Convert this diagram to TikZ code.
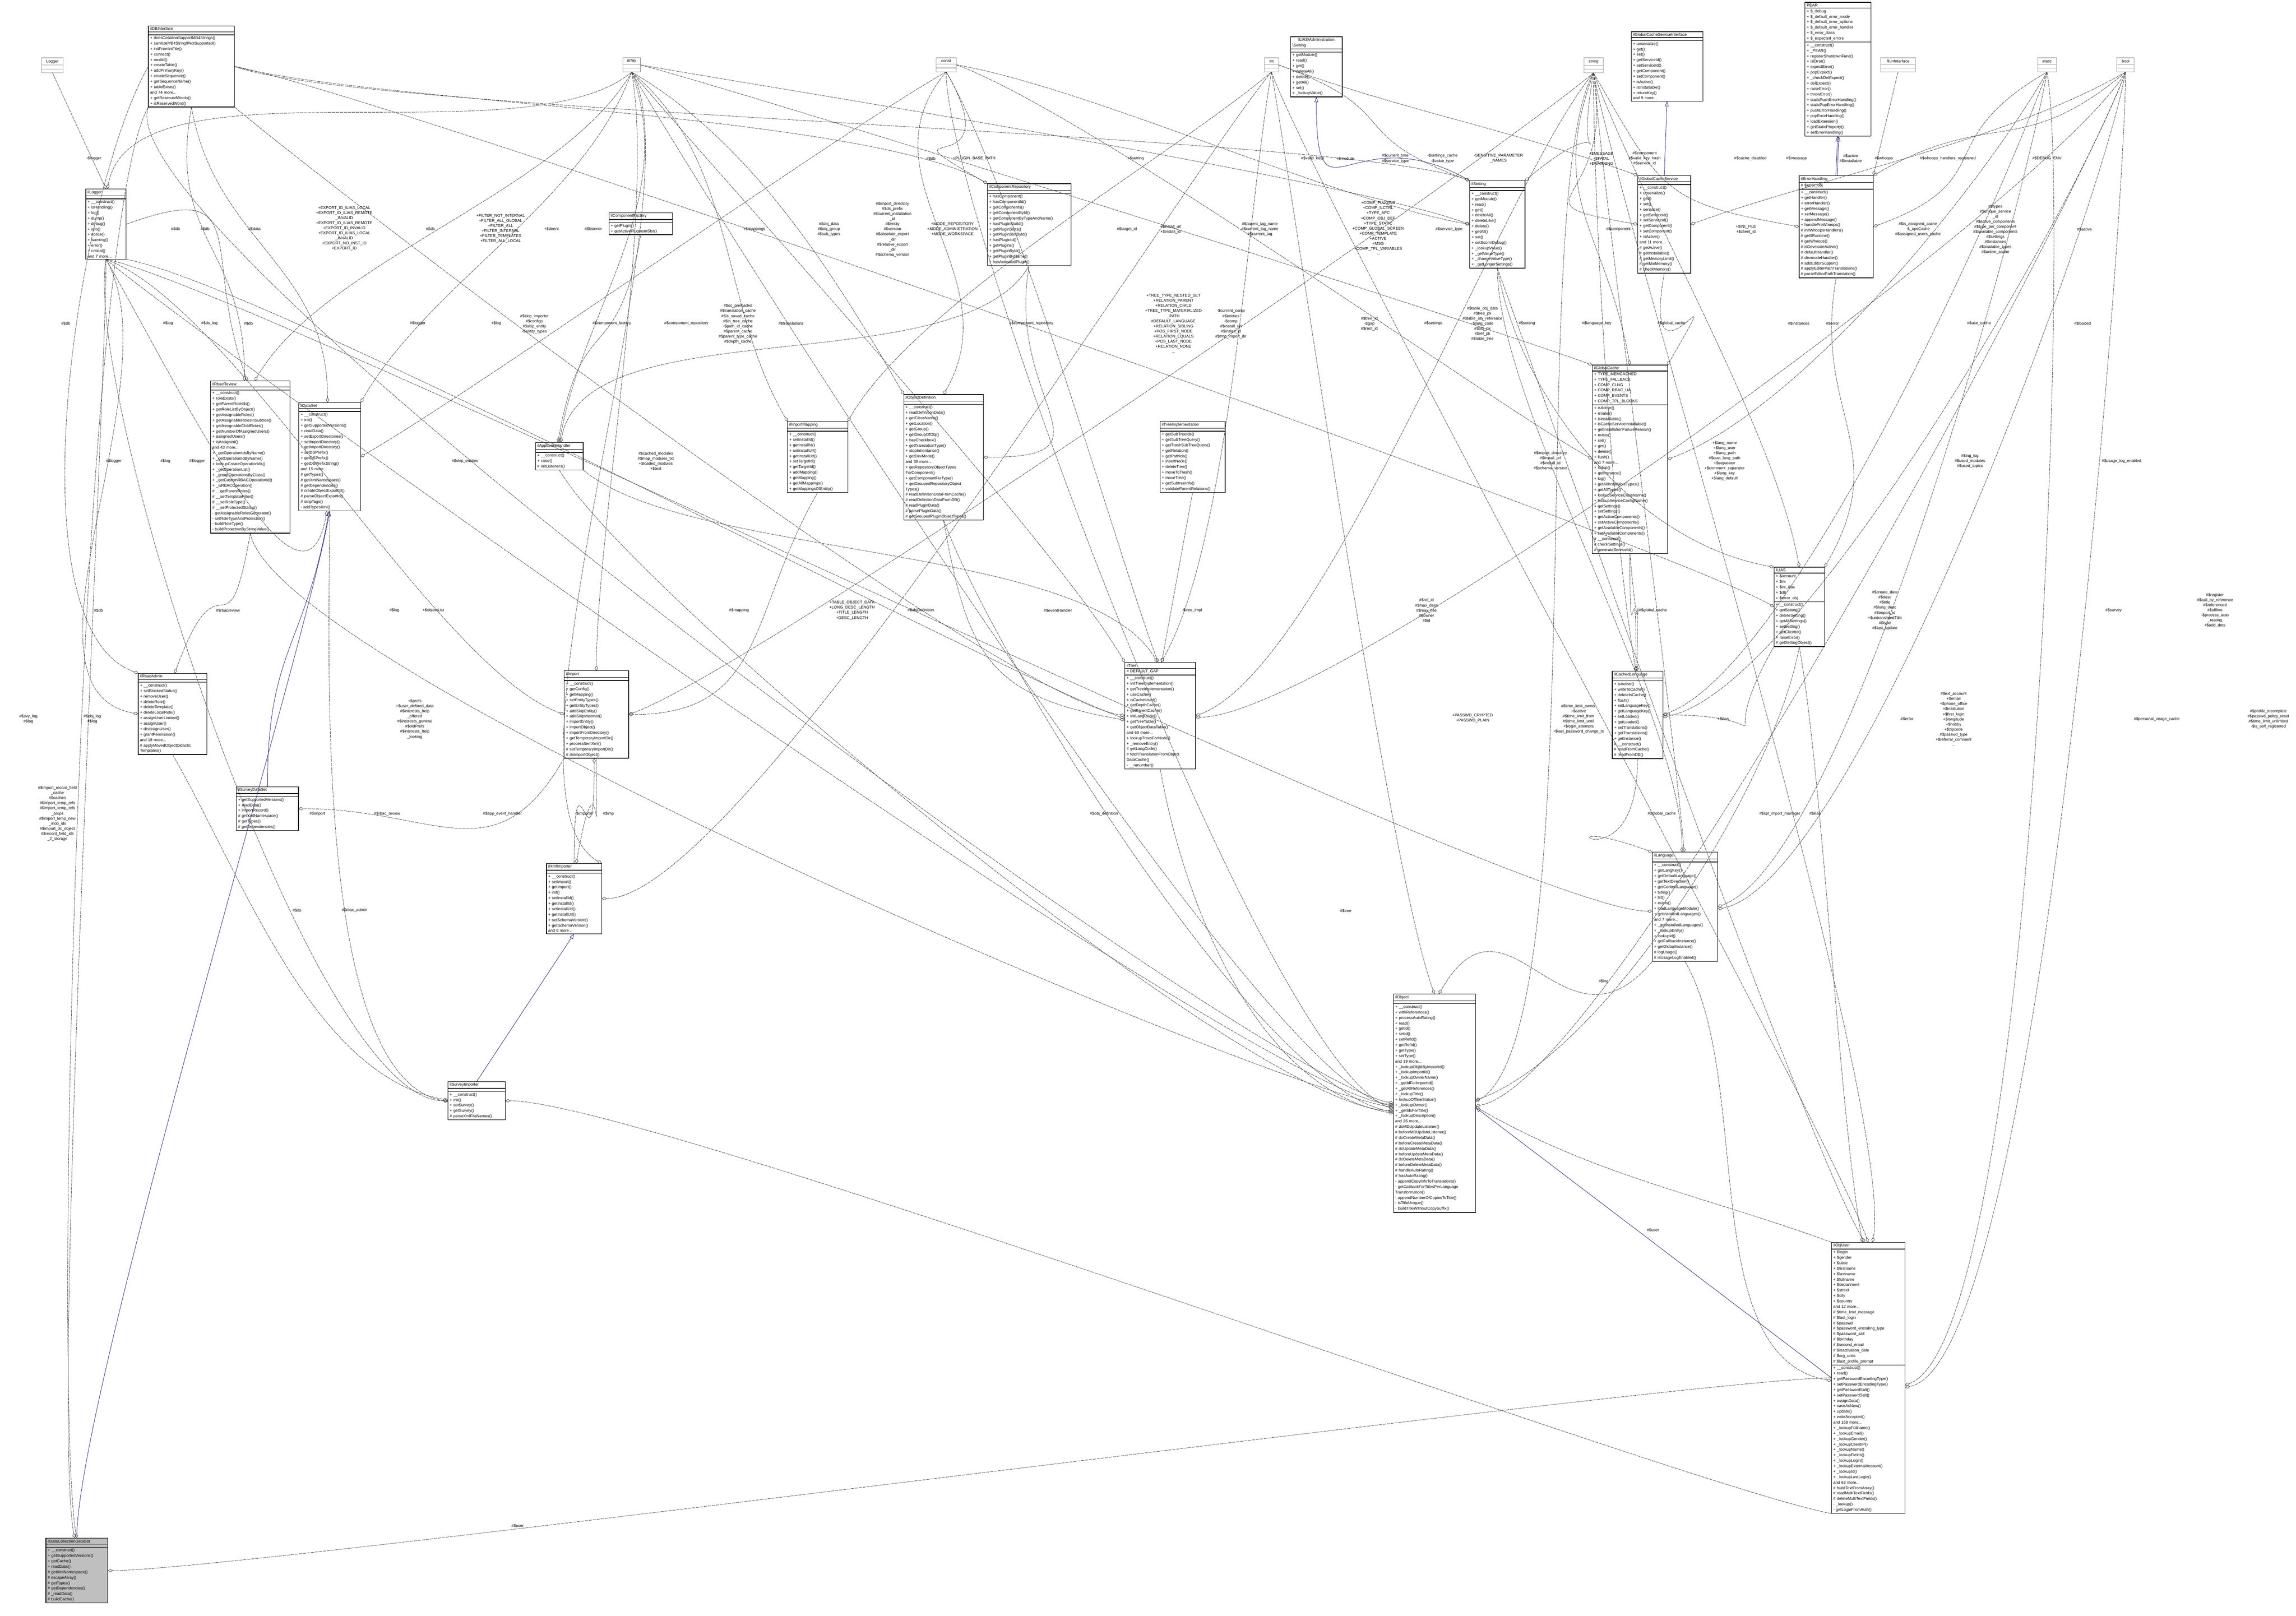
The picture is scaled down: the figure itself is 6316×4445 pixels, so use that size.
\documentclass[tikz,border=0pt]{standalone}
\usepackage{fontspec}
\setmainfont{Liberation Sans}
\usetikzlibrary{shapes.multipart,arrows.meta}
\definecolor{edgec}{HTML}{404040}
\definecolor{inhc}{HTML}{191970}
\newcommand\cls[8][white]{%
  \node[cls,fill=#1,text width=#5pt,anchor=north west] (#2) at (#3,#4) {#6\nodepart{second}#7\nodepart{third}#8};}
\newcommand\typ[4]{%
  \node[typbox,text width=#4pt,anchor=north west] (#1) at (#2,#3) {\centering #1\nodepart{second}\mbox{}\nodepart{third}\mbox{}};}
\newcommand\lbl[4]{\node[lab] (#1) at (#2,#3) {#4};}
\newcommand\crv[5]{%
  \pgfmathsetmacro\cax{380*cos(#3)}\pgfmathsetmacro\cay{-380*sin(#3)}%
  \pgfmathsetmacro\cbx{380*cos(#4)}\pgfmathsetmacro\cby{-380*sin(#4)}%
  \draw[#1] (#2) .. controls +(\cax,\cay) and +(\cbx,\cby) .. (#5);}
\begin{document}
\begin{tikzpicture}[x=1pt,y=-1pt,scale=0.2,every node/.append style={transform shape},
  cls/.style={draw=black,line width=0.32pt,rectangle split,rectangle split parts=3,
    align=left,font=\fontsize{11}{15}\selectfont,inner xsep=5pt,inner ysep=4pt},
  typbox/.style={draw=black!35,line width=0.28pt,rectangle split,rectangle split parts=3,
    align=center,font=\fontsize{11}{15}\selectfont,inner xsep=3pt,inner ysep=5pt},
  lab/.style={align=center,font=\fontsize{11}{14}\selectfont,inner sep=1pt},
  dep/.style={draw=edgec,dash pattern=on 1.8pt off 0.4pt,line width=0.2pt,-{Diamond[open,length=2.8pt,width=1.8pt]}},
  inh/.style={draw=inhc,line width=0.2pt,-{Triangle[open,length=2.8pt,width=2pt]}}]
\fill[white] (0,0) rectangle (6316,4445);
\useasboundingbox (0,0) rectangle (6316,4445);
% ---------- type boxes
\typ{Logger}{114}{159}{54}
\typ{array}{1713}{159}{43}
\typ{const}{2575}{159}{49}
\typ{int}{3478}{159}{33}
\typ{string}{4357}{159}{47}
\typ{RunInterface}{5173}{159}{90}
\typ{static}{5605}{159}{46}
\typ{bool}{5823}{159}{42}
% ---------- classes
\cls{ilDBInterface}{408}{71}{227}{\centering ilDBInterface}{\mbox{}}{+ doesCollationSupportMB4Strings()\\+ sanitizeMB4StringIfNotSupported()\\+ initFromIniFile()\\+ connect()\\+ nextId()\\+ createTable()\\+ addPrimaryKey()\\+ createSequence()\\+ getSequenceName()\\+ tableExists()\\and 74 more...\\+ getReservedWords()\\+ isReservedWord()}
\cls{ilLogger}{236}{520}{101}{\centering ilLogger}{\mbox{}}{+ \_\_construct()\\+ isHandling()\\+ log()\\+ dump()\\+ debug()\\+ info()\\+ notice()\\+ warning()\\+ error()\\+ critical()\\and 7 more...}
\cls{ilComponentFactory}{1675}{585}{165}{\centering ilComponentFactory}{\mbox{}}{+ getPlugin()\\+ getActivePluginsInSlot()}
\cls{ILIASSetting}{3550}{101}{132}{\centering ILIAS\textbackslash Administration\\\textbackslash Setting}{\mbox{}}{+ getModule()\\+ read()\\+ get()\\+ deleteAll()\\+ delete()\\+ getAll()\\+ set()\\+ \_lookupValue()}
\cls{ilComponentRepository}{2716}{505}{220}{\centering ilComponentRepository}{\mbox{}}{+ hasComponent()\\+ hasComponentId()\\+ getComponents()\\+ getComponentById()\\+ getComponentByTypeAndName()\\+ hasPluginSlotId()\\+ getPluginSlots()\\+ getPluginSlotById()\\+ hasPluginId()\\+ getPlugins()\\+ getPluginById()\\+ getPluginByName()\\+ hasActivatedPlugin()}
\cls{ilSetting}{4043}{497}{142}{\centering ilSetting}{\mbox{}}{+ \_\_construct()\\+ getModule()\\+ read()\\+ get()\\+ deleteAll()\\+ deleteLike()\\+ delete()\\+ getAll()\\+ set()\\+ setScormDebug()\\+ \_lookupValue()\\+ \_getValueType()\\+ \_changeValueType()\\+ \_getLongerSettings()}
\cls{ilGCSI}{4487}{87}{187}{\centering ilGlobalCacheServiceInterface}{\mbox{}}{+ unserialize()\\+ get()\\+ set()\\+ getServiceId()\\+ setServiceId()\\+ getComponent()\\+ setComponent()\\+ isActive()\\+ isInstallable()\\+ returnKey()\\and 9 more...}
\cls{PEAR}{4965}{6}{172}{\centering PEAR}{+ \$\_debug\\+ \$\_default\_error\_mode\\+ \$\_default\_error\_options\\+ \$\_default\_error\_handler\\+ \$\_error\_class\\+ \$\_expected\_errors}{+ \_\_construct()\\+ \_PEAR()\\+ registerShutdownFunc()\\+ isError()\\+ expectError()\\+ popExpect()\\+ \_checkDelExpect()\\+ delExpect()\\+ raiseError()\\+ throwError()\\+ staticPushErrorHandling()\\+ staticPopErrorHandling()\\+ pushErrorHandling()\\+ popErrorHandling()\\+ loadExtension()\\+ getStaticProperty()\\+ setErrorHandling()}
\cls{ilGCS}{4505}{483}{136}{\centering ilGlobalCacheService}{\mbox{}}{+ \_\_construct()\\+ unserialize()\\+ get()\\+ set()\\+ serialize()\\+ getServiceId()\\+ setServiceId()\\+ getComponent()\\+ setComponent()\\+ isActive()\\and 11 more...\\\# getActive()\\\# getInstallable()\\\# getMemoryLimit()\\\# getMinMemory()\\\# checkMemory()}
\cls{ilErrorHandling}{4949}{483}{194}{\centering ilErrorHandling}{\# \$error\_obj}{+ \_\_construct()\\+ getHandler()\\+ errorHandler()\\+ getMessage()\\+ setMessage()\\+ appendMessage()\\+ handlePreWhoops()\\\# initWhoopsHandlers()\\\# getIlRuntime()\\\# getWhoops()\\\# isDevmodeActive()\\\# defaultHandler()\\\# devmodeHandler()\\\# addEditorSupport()\\\# applyEditorPathTranslations()\\\# parseEditorPathTranslation()}
\cls{ilRbacReview}{579}{1048}{209}{\centering ilRbacReview}{\mbox{}}{+ \_\_construct()\\+ roleExists()\\+ getParentRoleIds()\\+ getRoleListByObject()\\+ getAssignableRoles()\\+ getAssignableRolesInSubtree()\\+ getAssignableChildRoles()\\+ getNumberOfAssignedUsers()\\+ assignedUsers()\\+ isAssigned()\\and 43 more...\\+ \_getOperationIdsByName()\\+ \_getOperationIdByName()\\+ lookupCreateOperationIds()\\+ \_getOperationList()\\+ \_groupOperationsByClass()\\+ \_getCustomRBACOperationId()\\+ \_isRBACOperation()\\\# \_\_getParentRoles()\\\# \_\_setTemplateFilter()\\\# \_\_setRoleType()\\\# \_\_setProtectedStatus()\\- getAssignableRolesGenerator()\\- setRoleTypeAndProtection()\\- buildRoleType()\\- buildProtectionByStringValue()}
\cls{ilDataSet}{822}{1107}{160}{\centering ilDataSet}{\mbox{}}{+ \_\_construct()\\+ init()\\+ getSupportedVersions()\\+ readData()\\+ setExportDirectories()\\+ setImportDirectory()\\+ getImportDirectory()\\+ setDSPrefix()\\+ getDSPrefix()\\+ getDSPrefixString()\\and 15 more...\\\# getTypes()\\\# getXmlNamespace()\\\# getDependencies()\\\# createObjectExportId()\\\# parseObjectExportId()\\\# stripTags()\\- addTypesXml()}
\cls{ilAppEventHandler}{1473}{1217}{121}{\centering ilAppEventHandler}{\mbox{}}{+ \_\_construct()\\+ raise()\\\# initListeners()}
\cls{ilRbacAdmin}{380}{1852}{179}{\centering ilRbacAdmin}{\mbox{}}{+ \_\_construct()\\+ setBlockedStatus()\\+ removeUser()\\+ deleteRole()\\+ deleteTemplate()\\+ deleteLocalRole()\\+ assignUserLimited()\\+ assignUser()\\+ deassignUser()\\+ grantPermission()\\and 18 more...\\\# applyMovedObjectDidactic\\Templates()}
\cls{ilSurveyDataSet}{650}{2164}{161}{\centering ilSurveyDataSet}{\mbox{}}{+ getSupportedVersions()\\+ readData()\\+ importRecord()\\\# getXmlNamespace()\\\# getTypes()\\\# getDependencies()}
\cls{ilImport}{1552}{1845}{167}{\centering ilImport}{\mbox{}}{+ \_\_construct()\\+ getConfig()\\+ getMapping()\\+ setEntityTypes()\\+ getEntityTypes()\\+ addSkipEntity()\\+ addSkipImporter()\\+ importEntity()\\+ importObject()\\+ importFromDirectory()\\+ getTemporaryImportDir()\\+ processItemXml()\\\# setTemporaryImportDir()\\\# doImportObject()}
\cls{ilImportMapping}{2166}{1159}{156}{\centering ilImportMapping}{\mbox{}}{+ \_\_construct()\\+ setInstallId()\\+ getInstallId()\\+ setInstallUrl()\\+ getInstallUrl()\\+ setTargetId()\\+ getTargetId()\\+ addMapping()\\+ getMapping()\\+ getAllMappings()\\+ getMappingsOfEntity()}
\cls{ilObjectDefinition}{2486}{1085}{209}{\centering ilObjectDefinition}{\mbox{}}{+ \_\_construct()\\+ readDefinitionData()\\+ getClassName()\\+ getLocation()\\+ getGroup()\\+ getGroupOfObj()\\+ hasCheckbox()\\+ getTranslationType()\\+ stopInheritance()\\+ getDevMode()\\and 38 more...\\+ getRepositoryObjectTypes\\ForComponent()\\+ getComponentForType()\\+ getGroupedRepositoryObject\\Types()\\\# readDefinitionDataFromCache()\\\# readDefinitionDataFromDB()\\\# readPluginData()\\\# parsePluginData()\\\# getGroupedPluginObjectTypes()}
\cls{ilTreeImplementation}{3191}{1159}{169}{\centering ilTreeImplementation}{\mbox{}}{+ getSubTreeIds()\\+ getSubTreeQuery()\\+ getTrashSubTreeQuery()\\+ getRelation()\\+ getPathIds()\\+ insertNode()\\+ deleteTree()\\+ moveToTrash()\\+ moveTree()\\+ getSubtreeInfo()\\+ validateParentRelations()}
\cls{ilTree}{3094}{1822}{185}{\centering ilTree}{\# DEFAULT\_GAP}{+ \_\_construct()\\+ initTreeImplementation()\\+ getTreeImplementation()\\+ useCache()\\+ isCacheUsed()\\+ getDepthCache()\\+ getParentCache()\\+ initLangCode()\\+ getTreeTable()\\+ getObjectDataTable()\\and 69 more...\\+ lookupTreesForNode()\\+ \_removeEntry()\\\# getLangCode()\\\# fetchTranslationFromObject\\DataCache()\\- \_\_renumber()}
\cls{ilGlobalCache}{4380}{1004}{197}{\centering ilGlobalCache}{+ TYPE\_MEMCACHED\\+ TYPE\_FALLBACK\\+ COMP\_CLNG\\+ COMP\_RBAC\_UA\\+ COMP\_EVENTS\\+ COMP\_TPL\_BLOCKS}{+ isActive()\\+ isValid()\\+ isInstallable()\\+ isCacheServiceInstallable()\\+ getInstallationFailureReason()\\+ exists()\\+ set()\\+ get()\\+ delete()\\+ flush()\\and 7 more...\\+ setup()\\+ getInstance()\\+ log()\\+ getAllInstallableTypes()\\+ getAllTypes()\\+ lookupServiceClassName()\\+ lookupServiceConfigName()\\+ getSettings()\\+ setSettings()\\+ getActiveComponents()\\+ setActiveComponents()\\+ getAvailableComponents()\\+ setAvailableComponents()\\\# \_\_construct()\\\# checkSettings()\\\# generateServiceId()}
\cls{ILIAS}{4880}{1560}{129}{\centering ILIAS}{+ \$account\\+ \$ini\\+ \$ini\_ilias\\+ \$db\\+ \$error\_obj}{+ \_\_construct()\\+ getSetting()\\+ deleteSetting()\\+ getAllSettings()\\+ setSetting()\\+ getClientId()\\+ raiseError()\\\# getSettingObject()}
\cls{ilCachedLanguage}{4435}{1846}{129}{\centering ilCachedLanguage}{\mbox{}}{+ isActive()\\+ writeToCache()\\+ deleteInCache()\\+ flush()\\+ setLanguageKey()\\+ getLanguageKey()\\+ setLoaded()\\+ getLoaded()\\+ setTranslations()\\+ getTranslations()\\+ getInstance()\\\# \_\_construct()\\\# readFromCache()\\\# readFromDB()}
\cls{ilLanguage}{4545}{2344}{170}{\centering ilLanguage}{\mbox{}}{+ \_\_construct()\\+ getLangKey()\\+ getDefaultLanguage()\\+ getTextDirection()\\+ getContentLanguage()\\+ txtlng()\\+ txt()\\+ exists()\\+ loadLanguageModule()\\+ getInstalledLanguages()\\and 7 more...\\+ \_getInstalledLanguages()\\+ \_lookupEntry()\\+ lookupId()\\+ getFallbackInstance()\\+ getGlobalInstance()\\\# logUsage()\\\# isUsageLogEnabled()}
\cls{ilXmlImporter}{1503}{2375}{142}{\centering ilXmlImporter}{\mbox{}}{+ \_\_construct()\\+ setImport()\\+ getImport()\\+ init()\\+ setInstallId()\\+ getInstallId()\\+ setInstallUrl()\\+ getInstallUrl()\\+ setSchemaVersion()\\+ getSchemaVersion()\\and 8 more...}
\cls{ilSurveyImporter}{1232}{2975}{148}{\centering ilSurveyImporter}{\mbox{}}{+ \_\_construct()\\+ init()\\+ setSurvey()\\+ getSurvey()\\\# parseXmlFileNames()}
\cls{ilObject}{3833}{2734}{216}{\centering ilObject}{\mbox{}}{+ \_\_construct()\\+ withReferences()\\+ processAutoRating()\\+ read()\\+ getId()\\+ setId()\\+ setRefId()\\+ getRefId()\\+ getType()\\+ setType()\\and 39 more...\\+ \_lookupObjIdByImportId()\\+ \_lookupImportId()\\+ \_lookupOwnerName()\\+ \_getIdForImportId()\\+ \_getAllReferences()\\+ \_lookupTitle()\\+ lookupOfflineStatus()\\+ \_lookupOwner()\\+ \_getIdsForTitle()\\+ \_lookupDescription()\\and 26 more...\\\# doMDUpdateListener()\\\# beforeMDUpdateListener()\\\# doCreateMetaData()\\\# beforeCreateMetaData()\\\# doUpdateMetaData()\\\# beforeUpdateMetaData()\\\# doDeleteMetaData()\\\# beforeDeleteMetaData()\\\# handleAutoRating()\\\# hasAutoRating()\\- appendCopyInfoToTranslations()\\- getCallbackForTitlesPerLanguage\\Transformation()\\- appendNumberOfCopiesToTitle()\\- isTitleUnique()\\- buildTitleWithoutCopySuffix()}
\cls{ilObjUser}{5038}{3417}{192}{\centering ilObjUser}{+ \$login\\+ \$gender\\+ \$utitle\\+ \$firstname\\+ \$lastname\\+ \$fullname\\+ \$department\\+ \$street\\+ \$city\\+ \$country\\and 12 more...\\\# \$time\_limit\_message\\\# \$last\_login\\\# \$passwd\\\# \$password\_encoding\_type\\\# \$password\_salt\\\# \$birthday\\\# \$second\_email\\\# \$inactivation\_date\\\# \$org\_units\\\# \$last\_profile\_prompt}{+ \_\_construct()\\+ read()\\+ getPasswordEncodingType()\\+ setPasswordEncodingType()\\+ getPasswordSalt()\\+ setPasswordSalt()\\+ assignData()\\+ saveAsNew()\\+ update()\\+ writeAccepted()\\and 168 more...\\+ \_lookupFullname()\\+ \_lookupEmail()\\+ \_lookupGender()\\+ \_lookupClientIP()\\+ \_lookupName()\\+ \_lookupFields()\\+ \_lookupLogin()\\+ \_lookupExternalAccount()\\+ \_lookupId()\\+ \_lookupLastLogin()\\and 63 more...\\\# buildTextFromArray()\\\# readMultiTextFields()\\\# deleteMultiTextFields()\\- \_lookup()\\- getLoginFromAuth()}
\cls[black!25]{ilDCDS}{126}{4231}{160}{\centering ilDataCollectionDataSet}{\mbox{}}{+ \_\_construct()\\+ getSupportedVersions()\\+ getCache()\\+ readData()\\\# getXmlNamespace()\\\# escapeArray()\\\# getTypes()\\\# getDependencies()\\\# \_readData()\\\# buildCache()}
% ---------- inheritance
\draw[inh] (ilGCS.north) -- (ilGCSI.south);
\crv{inh}{ilSetting.north west}{150}{-90}{ILIASSetting.south}
\draw[inh] ([xshift=-1pt]ilErrorHandling.north) -- ([xshift=-1pt]PEAR.south);
\draw[inh] ([xshift=3pt]ilErrorHandling.north) -- ([xshift=2pt]PEAR.south);
\crv{inh}{ilSurveyDataSet.north}{90}{-100}{[xshift=-2pt]ilDataSet.south}
\crv{inh}{ilDCDS.north}{90}{-100}{ilDataSet.south}
\draw[inh] (ilSurveyImporter.north) -- (ilXmlImporter.south);
\draw[inh] (ilObjUser.west) -- ([yshift=-12pt]ilObject.east);
% ---------- dependencies
\draw[dep] (Logger.south) -- (ilLogger.north);
\crv{dep}{ilDBInterface.south}{-100}{90}{[xshift=-16pt]ilRbacReview.north}
\crv{dep}{ilDBInterface.south}{-80}{90}{[xshift=-6pt]ilDataSet.north}
\crv{dep}{ilDBInterface.west}{-120}{160}{ilRbacAdmin.north west}
\crv{dep}{ilDBInterface.east}{-20}{160}{ilSetting.north west}
\crv{dep}{ilDBInterface.south east}{-40}{170}{ilTree.west}
\crv{dep}{ilDBInterface.south west}{-110}{170}{ilObject.west}
\crv{dep}{ilDBInterface.east}{-10}{150}{ILIAS.west}
\crv{dep}{ilDBInterface.south west}{-120}{100}{ilDCDS.north}
\crv{dep}{ilDBInterface.east}{-15}{150}{ilComponentRepository.north west}
\crv{dep}{array.south}{-120}{60}{[xshift=12pt]ilRbacReview.north}
\crv{dep}{array.south}{-110}{60}{ilDataSet.north east}
\crv{dep}{array.south}{-80}{90}{ilImport.north}
\crv{dep}{array.south}{-30}{120}{ilObjectDefinition.north west}
\crv{dep}{array.south}{-40}{120}{ilImportMapping.north west}
\crv{dep}{array.south}{-50}{120}{ilTree.north west}
\crv{dep}{array.east}{-10}{160}{ilSetting.west}
\crv{dep}{array.east}{-15}{160}{ilGlobalCache.north west}
\crv{dep}{array.south}{-60}{170}{[yshift=-8pt]ilObject.west}
\crv{dep}{array.south}{-60}{150}{ilXmlImporter.north east}
\crv{dep}{array.south}{-70}{80}{ilAppEventHandler.north}
\crv{dep}{array.south}{-140}{80}{[xshift=4pt]ilLogger.north}
\crv{dep}{ilLogger.south}{-60}{-100}{[xshift=-8pt]ilDataSet.south}
\crv{dep}{ilLogger.east}{20}{110}{[xshift=-8pt]ilRbacReview.north}
\crv{dep}{ilLogger.south}{-20}{160}{ilImport.west}
\crv{dep}{ilLogger.south}{-40}{175}{[yshift=-4pt]ilObject.west}
\crv{dep}{ilLogger.south east}{-10}{160}{[yshift=-8pt]ilTree.west}
\crv{dep}{ilLogger.south}{-100}{180}{ilSurveyImporter.west}
\crv{dep}{ilLogger.south}{-90}{100}{[xshift=-6pt]ilDCDS.north}
\crv{dep}{ilLogger.south}{-10}{180}{[yshift=-12pt]ilLanguage.west}
\crv{dep}{ilLogger.south}{-60}{170}{ilRbacAdmin.west}
\crv{dep}{ilComponentFactory.south}{-100}{80}{[xshift=-4pt]ilAppEventHandler.north}
\crv{dep}{ilComponentRepository.south}{-120}{80}{[xshift=4pt]ilAppEventHandler.north}
\crv{dep}{ilComponentRepository.south}{-100}{0}{ilObjectDefinition.east}
\crv{dep}{const.south}{-60}{150}{ilComponentRepository.north west}
\crv{dep}{const.south}{-60}{110}{[xshift=-6pt]ilTree.north}
\crv{dep}{const.south}{-130}{60}{ilObjectDefinition.north}
\crv{dep}{const.south}{-150}{30}{ilDataSet.east}
\crv{dep}{const.east}{-20}{150}{ilGlobalCache.west}
\crv{dep}{const.south}{-90}{160}{[yshift=-16pt]ilObject.west}
\crv{dep}{const.east}{-10}{170}{ilSetting.west}
\crv{dep}{int.south}{-100}{60}{[xshift=2pt]ilTree.north}
\crv{dep}{int.south}{-140}{60}{ilImportMapping.north east}
\crv{dep}{int.south}{-130}{0}{ilXmlImporter.east}
\crv{dep}{int.south}{-80}{110}{ilObject.north}
\crv{dep}{int.east}{-20}{160}{ilSetting.north west}
\crv{dep}{int.east}{-20}{160}{ilGCS.north west}
\crv{dep}{int.south}{-70}{110}{ilObjUser.north}
\crv{dep}{string.south}{-100}{40}{ilSetting.north east}
\crv{dep}{string.south}{-80}{170}{ilGCS.west}
\crv{dep}{string.south}{-60}{170}{ilErrorHandling.west}
\crv{dep}{string.south}{-70}{100}{ILIAS.north}
\crv{dep}{string.south}{-110}{100}{ilGlobalCache.north}
\crv{dep}{string.south}{-90}{100}{[xshift=-4pt]ilCachedLanguage.north}
\crv{dep}{string.south}{-85}{95}{[xshift=-2pt]ilLanguage.north}
\crv{dep}{string.south}{-120}{30}{[yshift=4pt]ilObject.east}
\crv{dep}{string.south}{-80}{80}{[xshift=12pt]ilObjUser.north}
\crv{dep}{string.south}{-130}{20}{ilTree.east}
\crv{dep}{string.south}{-140}{20}{ilImport.east}
\draw[dep] (RunInterface.south) -- (ilErrorHandling.north east);
\crv{dep}{static.south}{-120}{20}{ilGlobalCache.east}
\crv{dep}{static.south}{-150}{20}{ilErrorHandling.east}
\crv{dep}{static.south}{-110}{20}{ilCachedLanguage.east}
\crv{dep}{static.south}{-100}{20}{ilLanguage.east}
\crv{dep}{static.south}{-80}{20}{[yshift=-20pt]ilObjUser.east}
\crv{dep}{bool.south}{-150}{20}{ilGCS.east}
\crv{dep}{bool.south}{-140}{30}{ilErrorHandling.north east}
\crv{dep}{bool.south}{-110}{10}{[yshift=-6pt]ilCachedLanguage.east}
\crv{dep}{bool.south}{-100}{10}{[yshift=-6pt]ilLanguage.east}
\crv{dep}{bool.south}{-110}{10}{[yshift=-8pt]ilObject.east}
\crv{dep}{bool.south}{-90}{10}{[yshift=-26pt]ilObjUser.east}
\crv{dep}{bool.south}{-120}{0}{[yshift=-4pt]ilTree.east}
\crv{dep}{ilRbacReview.south}{-100}{70}{[xshift=6pt]ilRbacAdmin.north}
\crv{dep}{ilRbacReview.south}{-80}{170}{[yshift=-12pt]ilObject.west}
\crv{dep}{ilDataSet.south}{-90}{170}{[yshift=-2pt]ilSurveyImporter.west}
\crv{dep}{ilAppEventHandler.south}{-60}{180}{[yshift=-20pt]ilObject.west}
\crv{dep}{ilAppEventHandler.south east}{-40}{120}{[xshift=-8pt]ilTree.north}
\crv{dep}{ilImport.south}{-90}{80}{[xshift=6pt]ilXmlImporter.north}
\crv{dep}{ilXmlImporter.north}{90}{-90}{[xshift=-6pt]ilImport.south}
\crv{dep}{ilImport.south west}{-120}{0}{ilSurveyDataSet.east}
\crv{dep}{ilImportMapping.south}{-120}{0}{ilImport.east}
\crv{dep}{ilObjectDefinition.south}{-80}{170}{[yshift=-12pt]ilTree.west}
\crv{dep}{ilObjectDefinition.south}{-70}{170}{[yshift=-24pt]ilObject.west}
\draw[dep] (ilTreeImplementation.south) -- ([xshift=4pt]ilTree.north);
\crv{dep}{ilTree.south}{-80}{170}{[yshift=-28pt]ilObject.west}
\crv{dep}{ilSetting.south}{-90}{90}{[xshift=-8pt]ilLanguage.north}
\crv{dep}{ilSetting.south}{-80}{170}{ILIAS.north west}
\crv{dep}{ilSetting.south}{-70}{120}{[xshift=-10pt]ilObjUser.north}
\crv{dep}{ilGCS.south}{-100}{60}{ilGlobalCache.north east}
\crv{dep}{ilErrorHandling.south}{-100}{60}{ILIAS.north east}
\crv{dep}{ilGlobalCache.south}{-90}{90}{[xshift=-4pt]ilCachedLanguage.north}
\crv{dep}{ilGlobalCache.south}{-85}{90}{[xshift=-1pt]ilCachedLanguage.north}
\crv{dep}{ilCachedLanguage.south}{-90}{160}{ilLanguage.north west}
\crv{dep}{ILIAS.south west}{-120}{0}{ilCachedLanguage.east}
\crv{dep}{ILIAS.south}{-100}{20}{[yshift=8pt]ilObject.east}
\crv{dep}{ILIAS.south}{-80}{100}{[xshift=-16pt]ilObjUser.north}
\crv{dep}{ilLanguage.south west}{-130}{60}{[xshift=12pt]ilObject.north}
\crv{dep}{ilLanguage.south}{-60}{170}{[yshift=-8pt]ilObjUser.west}
\crv{dep}{ilObjUser.north west}{160}{-30}{[yshift=-10pt]ilObject.east}
\crv{dep}{ilObjUser.west}{180}{0}{ilDCDS.east}
\crv{dep}{ilRbacAdmin.south}{-60}{170}{[yshift=2pt]ilSurveyImporter.west}
\crv{dep}{ilObjUser.south west}{170}{0}{ilSurveyImporter.east}
% ---------- labels
\lbl{l1}{258}{436}{-\$logger}
\lbl{l2}{947}{628}{+EXPORT\_ID\_ILIAS\_LOCAL\\+EXPORT\_ID\_ILIAS\_REMOTE\\\_INVALID\\+EXPORT\_ID\_ILIAS\_REMOTE\\+EXPORT\_ID\_INVALID\\+EXPORT\_ID\_ILIAS\_LOCAL\\\_INVALID\\+EXPORT\_NO\_INST\_ID\\+EXPORT\_ID}
\lbl{l3}{1377}{629}{+FILTER\_NOT\_INTERNAL\\+FILTER\_ALL\_GLOBAL\\+FILTER\_ALL\\+FILTER\_INTERNAL\\+FILTER\_TEMPLATES\\+FILTER\_ALL\_LOCAL}
\lbl{l4}{483}{630}{\#\$db}
\lbl{l5}{564}{630}{\#\$db}
\lbl{l6}{700}{630}{\#\$data}
\lbl{l7}{1184}{630}{\#\$db}
\lbl{l8}{1517}{630}{+\$dirent}
\lbl{l9}{1632}{630}{\#\$listener}
\lbl{l10}{2075}{630}{+\$mappings}
\lbl{l11}{181}{890}{\#\$db}
\lbl{l12}{462}{890}{\#\$log}
\lbl{l13}{576}{890}{\#\$ds\_log}
\lbl{l14}{683}{890}{\#\$db}
\lbl{l15}{1149}{890}{\#\$logger}
\lbl{l16}{1365}{890}{+\$log}
\lbl{l17}{1470}{891}{\#\$skip\_importer\\\#\$configs\\\#\$skip\_entity\\-\$entity\_types}
\lbl{l18}{1683}{890}{\#\$component\_factory}
\lbl{l19}{1888}{890}{\#\$component\_repository}
\lbl{l20}{2030}{891}{\#\$oc\_preloaded\\\#\$translation\_cache\\\#\$is\_saved\_cache\\\#\$in\_tree\_cache\\-\$path\_id\_cache\\\#\$parent\_cache\\\#\$parent\_type\_cache\\\#\$depth\_cache}
\lbl{l21}{2561}{436}{\#\$db}
\lbl{l22}{2680}{436}{+PLUGIN\_BASE\_PATH}
\lbl{l23}{3124}{436}{+\$setting}
\lbl{l24}{3611}{436}{\#\$valid\_keys}
\lbl{l25}{3700}{436}{+\$module}
\lbl{l26}{3838}{436}{\#\$current\_time\\\#\$service\_type}
\lbl{l27}{3968}{436}{-\$settings\_cache\\-\$value\_type}
\lbl{l28}{4122}{436}{-SENSITIVE\_PARAMETER\\\_NAMES}
\lbl{l29}{2280}{631}{\#\$obj\_data\\\#\$obj\_group\\\#\$sub\_types}
\lbl{l30}{2455}{631}{\#\$import\_directory\\\#\$ds\_prefix\\\#\$current\_installation\\\_id\\\#\$entity\\\#\$version\\\#\$absolute\_export\\\_dir\\\#\$relative\_export\\\_dir\\\#\$schema\_version}
\lbl{l31}{2620}{631}{+MODE\_REPOSITORY\\+MODE\_ADMINISTRATION\\+MODE\_WORKSPACE}
\lbl{l32}{3100}{631}{\#\$target\_id}
\lbl{l33}{3220}{631}{+\$install\_url\\+\$install\_id}
\lbl{l34}{3466}{631}{\#\$parent\_tag\_name\\\#\$current\_tag\_name\\\#\$current\_tag}
\lbl{l35}{3791}{628}{+COMP\_PLUGINS\\+COMP\_ILCTRL\\+TYPE\_APC\\+COMP\_OBJ\_DEF\\+TYPE\_STATIC\\+COMP\_GLOBAL\_SCREEN\\+COMP\_TEMPLATE\\+ACTIVE\\+MSG\\+COMP\_TPL\_VARIABLES\\...}
\lbl{l36}{3986}{631}{\#\$service\_type}
\lbl{l37}{2176}{890}{\#\$translations}
\lbl{l38}{2837}{890}{\#\$component\_repository}
\lbl{l39}{3228}{890}{+TREE\_TYPE\_NESTED\_SET\\+RELATION\_PARENT\\+RELATION\_CHILD\\+TREE\_TYPE\_MATERIALIZED\\\_PATH\\\#DEFAULT\_LANGUAGE\\+RELATION\_SIBLING\\+POS\_FIRST\_NODE\\+RELATION\_EQUALS\\+POS\_LAST\_NODE\\+RELATION\_NONE\\...}
\lbl{l40}{3386}{891}{-\$current\_comp\\\#\$entities\\-\$comp\\\#\$install\_url\\\#\$install\_id\\\#\$tmp\_import\_dir}
\lbl{l41}{3767}{891}{\#\$tree\_id\\-\$gap\\\#\$root\_id}
\lbl{l42}{3943}{890}{\#\$settings}
\lbl{l43}{4078}{891}{\#\$table\_obj\_data\\\#\$tree\_pk\\\#\$table\_obj\_reference\\-\$lang\_code\\\#\$obj\_pk\\\#\$ref\_pk\\\#\$table\_tree}
\lbl{l44}{4200}{890}{\#\$setting}
\lbl{l45}{4405}{436}{+\$MESSAGE\\+\$FATAL\\+\$WARNING}
\lbl{l46}{4524}{436}{\#\$component\\\#\$valid\_key\_hash\\\#\$service\_id}
\lbl{l47}{4815}{436}{\#\$cache\_disabled}
\lbl{l48}{4942}{436}{\#\$message}
\lbl{l49}{5091}{436}{\#\$active\\\#\$installable}
\lbl{l50}{5182}{436}{\#\$whoops}
\lbl{l51}{5358}{436}{\#\$whoops\_handlers\_registered}
\lbl{l52}{5631}{436}{\#\$DEBUG\_ENV}
\lbl{l53}{4452}{631}{\#\$component}
\lbl{l54}{4803}{631}{+\$INI\_FILE\\+\$client\_id}
\lbl{l55}{5276}{631}{\#\$is\_assigned\_cache\\-\$\_opsCache\\\#\$assigned\_users\_cache}
\lbl{l56}{5489}{631}{\#\$types\\\#\$unique\_service\\\_id\\\#\$active\_components\\\#\$type\_per\_component\\\#\$available\_components\\\#\$settings\\\#\$instances\\\#\$available\_types\\\#\$active\_cache}
\lbl{l57}{5734}{631}{\#\$active}
\lbl{l58}{4392}{890}{\#\$language\_key}
\lbl{l59}{4598}{890}{\#\$global\_cache}
\lbl{l60}{4948}{890}{\#\$instances}
\lbl{l61}{5041}{890}{\#\$error}
\lbl{l62}{5444}{890}{\#\$use\_cache}
\lbl{l63}{5729}{890}{\#\$loaded}
\lbl{l64}{313}{1268}{\#\$logger}
\lbl{l65}{455}{1268}{\#\$log}
\lbl{l66}{542}{1268}{\#\$logger}
\lbl{l67}{1279}{1268}{\#\$skip\_entities}
\lbl{l68}{1804}{1268}{\#\$cached\_modules\\\#\$map\_modules\_txt\\+\$loaded\_modules\\+\$text}
\lbl{l69}{271}{1679}{\#\$db}
\lbl{l70}{627}{1679}{\#\$rbacreview}
\lbl{l71}{1085}{1679}{\#\$log}
\lbl{l72}{1192}{1679}{+\$objectList}
\lbl{l73}{2033}{1679}{\#\$mapping}
\lbl{l74}{78}{1978}{\#\$svy\_log\\\#\$log}
\lbl{l75}{254}{1978}{\#\$obj\_log\\\#\$log}
\lbl{l76}{1141}{1978}{+\$prefs\\+\$user\_defined\_data\\\#\$interests\_help\\\_offered\\\#\$interests\_general\\\#\$oldPrefs\\\#\$interests\_help\\\_looking}
\lbl{l77}{158}{2238}{\#\$import\_record\_field\\\_cache\\\#\$caches\\\#\$import\_temp\_refs\\\#\$import\_temp\_refs\\\_props\\\#\$import\_temp\_new\\\_mob\_ids\\\#\$import\_dc\_object\\\#\$record\_field\_ids\\\_2\_storage}
\lbl{l78}{873}{2238}{\#\$import}
\lbl{l79}{1065}{2238}{\#\$rbac\_review}
\lbl{l80}{1382}{2238}{\#\$app\_event\_handler}
\lbl{l81}{1607}{2238}{-\$importer}
\lbl{l82}{1674}{2238}{\#\$imp}
\lbl{l83}{2344}{1679}{+TABLE\_OBJECT\_DATA\\+LONG\_DESC\_LENGTH\\+TITLE\_LENGTH\\+DESC\_LENGTH}
\lbl{l84}{2533}{1679}{\#\$objDefinition}
\lbl{l85}{2910}{1679}{\#\$eventHandler}
\lbl{l86}{3279}{1679}{-\$tree\_impl}
\lbl{l87}{3924}{1679}{\#\$ref\_id\\\#\$max\_desc\\\#\$max\_title\\\#\$owner\\\#\$id}
\lbl{l88}{4051}{1975}{+PASSWD\_CRYPTED\\+PASSWD\_PLAIN}
\lbl{l89}{3037}{2238}{\#\$obj\_definition}
\lbl{l90}{4265}{1268}{\#\$import\_directory\\\#\$install\_url\\\#\$install\_id\\\#\$schema\_version}
\lbl{l91}{4744}{1268}{+\$lang\_name\\+\$lang\_user\\+\$lang\_path\\\#\$cust\_lang\_path\\+\$separator\\+\$comment\_separator\\+\$lang\_key\\+\$lang\_default}
\lbl{l92}{5419}{1268}{\#\$lng\_log\\\#\$used\_modules\\\#\$used\_topics}
\lbl{l93}{5836}{1268}{\#\$usage\_log\_enabled}
\lbl{l94}{4547}{1679}{\#\$global\_cache}
\lbl{l95}{5185}{1679}{\#\$create\_date\\\#\$desc\\\#\$title\\\#\$long\_desc\\\#\$import\_id\\+\$untranslatedTitle\\\#\$type\\\#\$last\_update}
\lbl{l96}{5814}{1679}{\#\$survey}
\lbl{l97}{6093}{1679}{\#\$register\\\#\$call\_by\_reference\\\#\$referenced\\\#\$offline\\-\$process\_auto\\\_reating\\\#\$add\_dots}
\lbl{l98}{4342}{1978}{\#\$time\_limit\_owner\\+\$active\\\#\$time\_limit\_from\\\#\$time\_limit\_until\\+\$login\_attempts\\+\$last\_password\_change\_ts}
\lbl{l99}{4740}{1978}{+\$ilias}
\lbl{l100}{5246}{1978}{\#\$error}
\lbl{l101}{5374}{1978}{\#\$ext\_account\\+\$email\\+\$phone\_office\\+\$institution\\+\$first\_login\\+\$longitude\\+\$hobby\\+\$zipcode\\\#\$passwd\_type\\+\$referral\_comment\\...}
\lbl{l102}{5933}{1978}{\#\$personal\_image\_cache}
\lbl{l103}{6240}{1978}{\#\$profile\_incomplete\\\#\$passwd\_policy\_reset\\\#\$time\_limit\_unlimited\\-\$is\_self\_registered}
\lbl{l104}{4571}{2238}{\#\$global\_cache}
\lbl{l105}{4896}{2238}{\#\$spl\_import\_manager}
\lbl{l106}{4993}{2238}{\#\$ilias}
\lbl{l107}{817}{2504}{\#\$ds}
\lbl{l108}{975}{2504}{\#\$rbac\_admin}
\lbl{l109}{1424}{4197}{\#\$user}
\lbl{l110}{3702}{2505}{\#\$tree}
\lbl{l111}{4411}{2700}{\#\$lng}
\lbl{l112}{4547}{3383}{\#\$user}
\end{tikzpicture}
\end{document}
